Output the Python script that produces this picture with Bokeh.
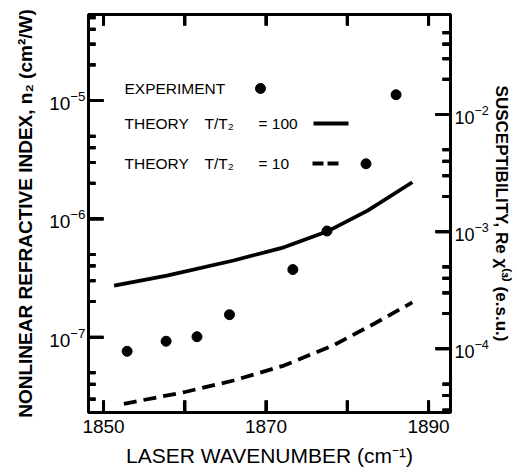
import math
from bokeh.plotting import figure
from bokeh.models import (Range1d, LogAxis, LinearAxis, FixedTicker, LogScale, BoxAnnotation)
from bokeh.core.properties import value
from bokeh.embed import file_html
from bokeh.resources import INLINE

# ---------------- data ----------------
exp_wavenumber = [1852.9, 1857.7, 1861.5, 1865.5, 1873.3, 1877.5, 1882.3, 1886.0]
exp_n2 = [7.6e-8, 9.25e-8, 1.01e-7, 1.55e-7, 3.73e-7, 7.9e-7, 2.92e-6, 1.12e-5]

theory100_wavenumber = [1851.3, 1857.8, 1866.0, 1872.2, 1877.5, 1882.5, 1888.0]
theory100_n2 = [2.73e-7, 3.32e-7, 4.45e-7, 5.75e-7, 7.81e-7, 1.175e-6, 2.04e-6]

theory10_wavenumber = [1852.5, 1859.9, 1866.0, 1872.2, 1878.4, 1883.3, 1888.0]
theory10_n2 = [2.74e-8, 3.43e-8, 4.31e-8, 5.76e-8, 8.61e-8, 1.30e-7, 1.97e-7]

x_ticks = [1850, 1860, 1870, 1880, 1890]
x_tick_labels = ["1850", "", "1870", "", "1890"]
n2_major = [1e-7, 1e-6, 1e-5]
chi_major = [1e-4, 1e-3, 1e-2]
minor_mantissas = [2, 3, 4, 5]

x_label = "LASER WAVENUMBER (cm⁻¹)"
left_label = "NONLINEAR REFRACTIVE INDEX, n₂ (cm²/W)"
right_label = "SUSCEPTIBILITY, Re χ⁽³⁾ (e.s.u.)"

legend_exp = "EXPERIMENT"
legend_theory = "THEORY"
legend_ratio = "T/T₂"
legend_100 = "= 100"
legend_10 = "= 10"

# ---------------- ranges / frame ----------------
X0, X1 = 1848.15, 1892.7
Y0, Y1 = 10 ** -7.636, 10 ** -4.273
C0, C1 = 10 ** -4.544, 10 ** -1.146
FL, FT, FW, FH = 88, 14, 362, 398
W, H = 516, 474

FONT = "Liberation Sans"

p = figure(frame_width=FW, frame_height=FH, x_range=Range1d(X0, X1), y_range=Range1d(Y0, Y1),
           y_axis_type="log", output_backend="svg", toolbar_location=None,
           min_border_left=FL, min_border_right=W - FL - FW,
           min_border_top=FT, min_border_bottom=H - FT - FH)
p.extra_y_ranges = {"chi": Range1d(C0, C1)}
p.extra_y_scales = {"chi": LogScale()}

p.xgrid.visible = False
p.ygrid.visible = False
p.outline_line_color = "black"
p.outline_line_width = 3


def minor_list(lo, hi):
    out = []
    for d in range(-9, 0):
        for m in minor_mantissas:
            v = m * 10 ** d
            if lo <= v <= hi:
                out.append(v)
    return out


def style_axis(ax, tick_in, minor_in):
    ax.axis_line_width = 3
    ax.axis_line_color = "black"
    ax.major_tick_line_color = "black"
    ax.minor_tick_line_color = "black"
    ax.major_tick_line_width = 3
    ax.minor_tick_line_width = 3
    ax.major_tick_in = tick_in
    ax.major_tick_out = 0
    ax.minor_tick_in = minor_in
    ax.minor_tick_out = 0
    ax.major_label_text_font = FONT
    ax.major_label_text_font_size = "19px"
    ax.major_label_text_color = "black"
    ax.axis_label_text_font = FONT
    ax.axis_label_text_color = "black"
    ax.axis_label_text_font_style = "normal"


xa = p.xaxis[0]
ya = p.yaxis[0]

lmin = minor_list(Y0, Y1)
rmin = minor_list(C0, C1)

# bottom axis
xa.ticker = FixedTicker(ticks=x_ticks, minor_ticks=[])
xa.major_label_overrides = {t: l for t, l in zip(x_ticks, x_tick_labels)}
style_axis(xa, 12, 0)
xa.major_label_standoff = 7
xa.axis_label = x_label
xa.axis_label_text_font_size = "21px"
xa.axis_label_standoff = 8

# left axis
ya.ticker = FixedTicker(ticks=n2_major, minor_ticks=lmin)
style_axis(ya, 15, 7)
ya.major_label_standoff = 3
ya.axis_label = left_label
ya.axis_label_text_font_size = "19px"
ya.axis_label_text_font_style = "bold"
ya.axis_label_standoff = 10

# top axis (ticks only)
ta = LinearAxis(ticker=FixedTicker(ticks=x_ticks, minor_ticks=[]))
style_axis(ta, 11, 0)
ta.major_label_overrides = {t: "" for t in x_ticks}
ta.major_label_text_font_size = "0px"
ta.major_label_standoff = 0
p.add_layout(ta, "above")

# right axis
ra = LogAxis(y_range_name="chi", ticker=FixedTicker(ticks=chi_major, minor_ticks=rmin))
style_axis(ra, 15, 8)
ra.major_label_text_font_size = "18px"
ra.major_label_standoff = 4
ra.axis_label = right_label
ra.axis_label_text_font_size = "17px"
ra.axis_label_text_font_style = "bold"
ra.axis_label_standoff = 0
p.add_layout(ra, "right")


# ---------------- helpers: pixel offsets -> data ----------------
def px_x(n):
    return n / FW * (X1 - X0)


def log_shift(v, n, lo, hi):
    return 10 ** (math.log10(v) + n / FH * (math.log10(hi) - math.log10(lo)))


def fx(sx):
    return X0 + (sx - FL) / FW * (X1 - X0)


def fy(sy):
    l0, l1 = math.log10(Y0), math.log10(Y1)
    return 10 ** (l1 - (sy - FT) / FH * (l1 - l0))


NAN = float("nan")

# ---------------- inward tick marks, built from the tick lists ----------------
# (a) one broken polyline per side
def hticks(x_edge, sign, vals_len):
    xs, ys = [], []
    for v, n in vals_len:
        xs += [x_edge + sign * px_x(0.5), x_edge + sign * px_x(n), NAN]
        ys += [v, v, NAN]
    return xs, ys


def vticks(y_edge, sign, length):
    xs, ys = [], []
    for t in x_ticks:
        xs += [t, t, NAN]
        ys += [log_shift(y_edge, sign * 0.5, Y0, Y1), log_shift(y_edge, sign * length, Y0, Y1), NAN]
    return xs, ys


TK = dict(line_color="black", line_width=3)
bx, by = vticks(Y0, 1, 12)
p.line(bx, by, **TK)
tx, ty = vticks(Y1, -1, 11)
p.line(tx, ty, **TK)
lx, ly = hticks(X0, 1, [(v, 15) for v in n2_major] + [(v, 7) for v in lmin])
p.line(lx, ly, **TK)
rx, ry = hticks(X1, -1, [(v, 15) for v in chi_major] + [(v, 8) for v in rmin])
p.line(rx, ry, y_range_name="chi", **TK)

# (b) small filled boxes as a second rendering of the same ticks
def box_h(x_edge, sign, v, n, lo, hi, rname):
    l = x_edge
    r = x_edge + sign * px_x(n)
    b = 10 ** (math.log10(v) - 1.5 / FH * (math.log10(hi) - math.log10(lo)))
    t = 10 ** (math.log10(v) + 1.5 / FH * (math.log10(hi) - math.log10(lo)))
    kw = dict(left=min(l, r), right=max(l, r), bottom=b, top=t, fill_color="black",
              fill_alpha=1.0, line_color=None, level="overlay")
    if rname:
        kw["y_range_name"] = rname
    p.add_layout(BoxAnnotation(**kw))


for v in n2_major:
    box_h(X0, 1, v, 15, Y0, Y1, None)
for v in lmin:
    box_h(X0, 1, v, 7, Y0, Y1, None)
for v in chi_major:
    box_h(X1, -1, v, 15, C0, C1, "chi")
for v in rmin:
    box_h(X1, -1, v, 8, C0, C1, "chi")
for t in x_ticks:
    p.add_layout(BoxAnnotation(left=t - px_x(1.5), right=t + px_x(1.5), bottom=Y0,
                               top=log_shift(Y0, 12, Y0, Y1), fill_color="black",
                               fill_alpha=1.0, line_color=None, level="overlay"))
    p.add_layout(BoxAnnotation(left=t - px_x(1.5), right=t + px_x(1.5),
                               bottom=log_shift(Y1, -11, Y0, Y1), top=Y1,
                               fill_color="black", fill_alpha=1.0, line_color=None,
                               level="overlay"))

# ---------------- data marks ----------------
p.line(theory100_wavenumber, theory100_n2, line_color="black", line_width=3.8)
p.line(theory10_wavenumber, theory10_n2, line_color="black", line_width=3.8,
       line_dash="13 7")
p.scatter(exp_wavenumber, exp_n2, size=10, color="black")

# ---------------- legend (placed by pixel positions in the frame) ----------------
rows = [88, 123, 163]
tkw = dict(text_font=value(FONT), text_font_size="15.5px", text_color="black",
           text_baseline="middle", text_align="left")
p.text(x=[fx(124)] * 3, y=[fy(r) for r in rows],
       text=[legend_exp, legend_theory, legend_theory], **tkw)
p.text(x=[fx(204)] * 2, y=[fy(r) for r in rows[1:]],
       text=[legend_ratio, legend_ratio], **tkw)
p.text(x=[fx(258)] * 2, y=[fy(r) for r in rows[1:]],
       text=[legend_100, legend_10], **tkw)
p.scatter([fx(260)], [fy(rows[0])], size=10, color="black")
p.line([fx(313), fx(348)], [fy(rows[1])] * 2, line_color="black", line_width=3.8)
p.line([fx(312), fx(338)], [fy(rows[2])] * 2, line_color="black", line_width=3.8,
       line_dash="11 4")

open("out.html", "w").write(file_html(p, INLINE))
